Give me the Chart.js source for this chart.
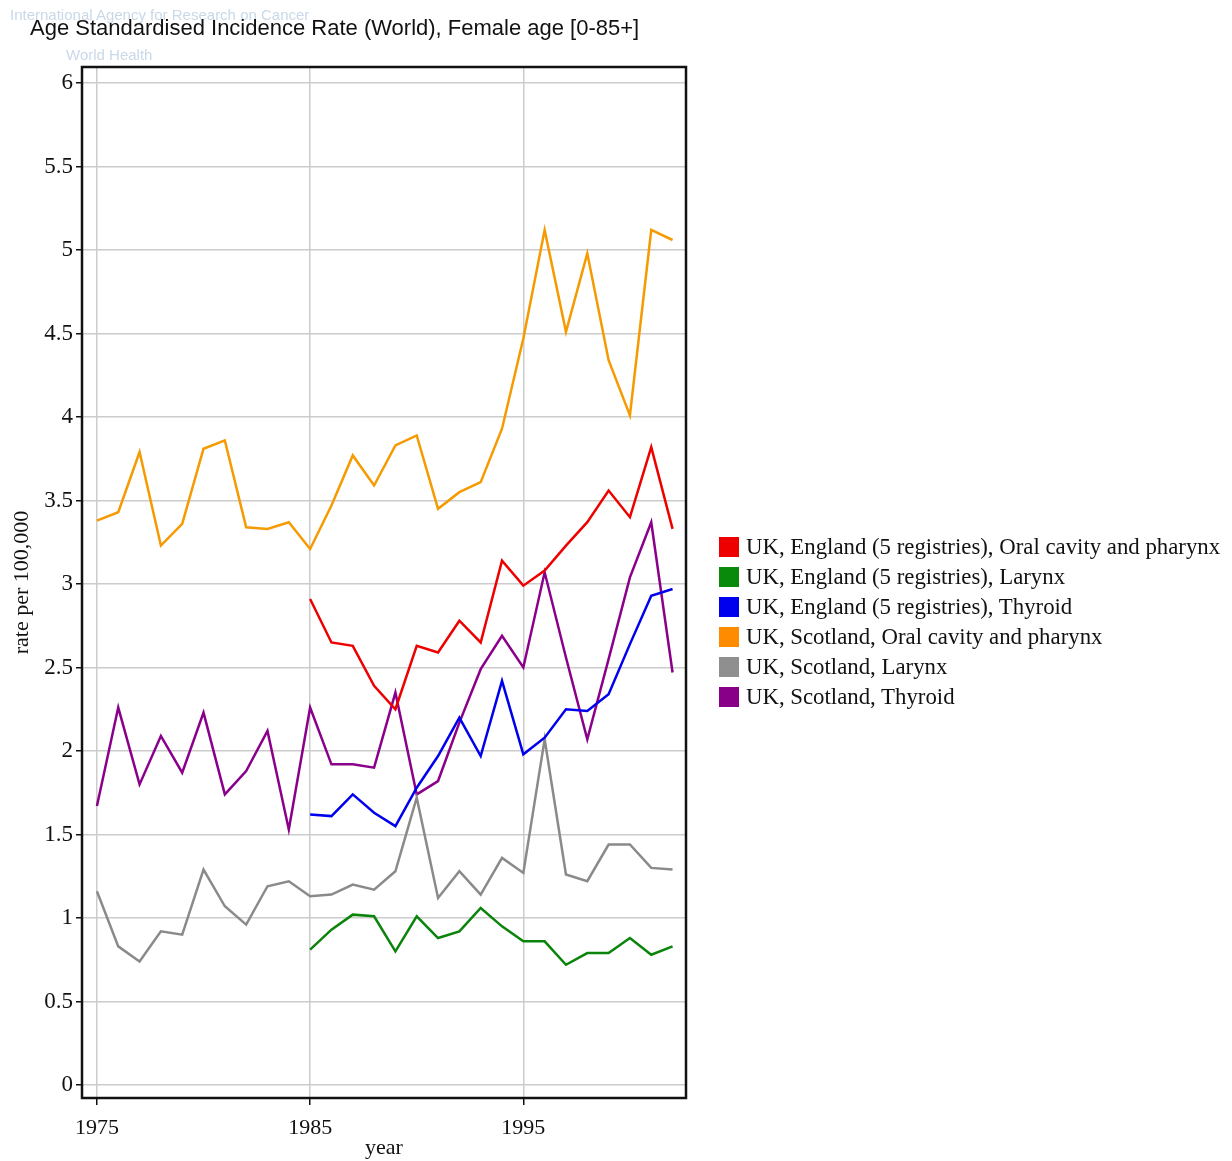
<!DOCTYPE html>
<html>
<head>
<meta charset="utf-8">
<script src="https://cdn.jsdelivr.net/npm/chart.js@4.4.1/dist/chart.umd.min.js"></script>
<style>
  body { margin: 0; background: #fff; }
  #wrap { position: relative; width: 1232px; height: 1161px; }
  #title { position: absolute; left: 30px; top: 15px; font: 22px "Liberation Sans", sans-serif; color: #111; white-space: nowrap; }
  .wm { position: absolute; color: #c9d9e8; font: 15px "Liberation Sans", sans-serif; white-space: nowrap; }
  #legend { position: absolute; left: 719px; top: 532px; font: 22.8px "Liberation Serif", serif; color: #111; }
  #legend div { height: 30px; line-height: 30px; white-space: nowrap; }
  #legend span { display: inline-block; width: 20px; height: 20px; margin-right: 7px; vertical-align: -3px; }
</style>
</head>
<body>
<div id="wrap">
  <div class="wm" style="left:10px;top:6px">International Agency for Research on Cancer</div>
  <div class="wm" style="left:66px;top:46px">World Health</div>
  <div id="title">Age Standardised Incidence Rate (World), Female age [0-85+]</div>
  <canvas id="chart" width="1232" height="1161"></canvas>
  <div id="legend"></div>
</div>
<script>
const years = [1975, 1976, 1977, 1978, 1979, 1980, 1981, 1982, 1983, 1984,
  1985, 1986, 1987, 1988, 1989, 1990, 1991, 1992, 1993, 1994,
  1995, 1996, 1997, 1998, 1999, 2000, 2001, 2002]

const seriesNames = [
  "UK, England (5 registries), Oral cavity and pharynx",
  "UK, England (5 registries), Larynx",
  "UK, England (5 registries), Thyroid",
  "UK, Scotland, Oral cavity and pharynx",
  "UK, Scotland, Larynx",
  "UK, Scotland, Thyroid"
]
const seriesColors = ["#ee0000", "#0a840a", "#0000ee", "#f59a00", "#8a8a8a", "#8b008b"]
const legendColors = ["#ee0000", "#0a8a0a", "#0000ee", "#ff8c00", "#8f8f8f", "#880088"]

// England registries only start in 1985
const engOral = [null, null, null, null, null, null, null, null, null, null,
  2.91, 2.65, 2.63, 2.39, 2.25, 2.63, 2.59, 2.78, 2.65, 3.14,
  2.99, 3.08, 3.23, 3.37, 3.56, 3.40, 3.82, 3.33]
const engLarynx = [null, null, null, null, null, null, null, null, null, null,
  0.81, 0.93, 1.02, 1.01, 0.80, 1.01, 0.88, 0.92, 1.06, 0.95,
  0.86, 0.86, 0.72, 0.79, 0.79, 0.88, 0.78, 0.83]
const engThyroid = [null, null, null, null, null, null, null, null, null, null,
  1.62, 1.61, 1.74, 1.63, 1.55, 1.78, 1.97, 2.20, 1.97, 2.42,
  1.98, 2.08, 2.25, 2.24, 2.34, 2.64, 2.93, 2.97]
const scoOral = [3.38, 3.43, 3.79, 3.23, 3.36, 3.81, 3.86, 3.34, 3.33, 3.37,
  3.21, 3.47, 3.77, 3.59, 3.83, 3.89, 3.45, 3.55, 3.61, 3.93,
  4.47, 5.12, 4.51, 4.98, 4.34, 4.01, 5.12, 5.06]
const scoLarynx = [1.16, 0.83, 0.74, 0.92, 0.90, 1.29, 1.07, 0.96, 1.19, 1.22,
  1.13, 1.14, 1.20, 1.17, 1.28, 1.72, 1.12, 1.28, 1.14, 1.36,
  1.27, 2.07, 1.26, 1.22, 1.44, 1.44, 1.30, 1.29]
const scoThyroid = [1.67, 2.26, 1.80, 2.09, 1.87, 2.23, 1.74, 1.88, 2.12, 1.53,
  2.26, 1.92, 1.92, 1.90, 2.35, 1.74, 1.82, 2.17, 2.49, 2.69,
  2.50, 3.07, 2.56, 2.07, 2.55, 3.04, 3.37, 2.47]

const xTicks = [1975, 1985, 1995]
const yTicks = [0, 0.5, 1, 1.5, 2, 2.5, 3, 3.5, 4, 4.5, 5, 5.5, 6]

const allSeries = [engOral, engLarynx, engThyroid, scoOral, scoLarynx, scoThyroid]

const datasets = allSeries.map((vals, i) => ({
  label: seriesNames[i],
  data: years.map((y, j) => ({ x: y, y: vals[j] })),
  borderColor: seriesColors[i],
  backgroundColor: seriesColors[i],
  borderWidth: 2.5,
  pointRadius: 0,
  tension: 0,
  spanGaps: false
}))

// html legend
const legendEl = document.getElementById("legend")
seriesNames.forEach((name, i) => {
  const row = document.createElement("div")
  row.innerHTML = '<span style="background:' + legendColors[i] + '"></span>' + name
  legendEl.appendChild(row)
})

const frame = {
  id: "frame",
  afterDatasetsDraw(chart) {
    const a = chart.chartArea
    const ctx = chart.ctx
    ctx.save()
    ctx.strokeStyle = "#111"
    ctx.lineWidth = 2.5
    ctx.strokeRect(a.left, a.top, a.right - a.left, a.bottom - a.top)
    ctx.restore()
  }
}

const serif = "'Liberation Serif', 'Times New Roman', serif"

new Chart(document.getElementById("chart"), {
  type: "line",
  data: { datasets: datasets },
  plugins: [frame],
  options: {
    responsive: false,
    animation: false,
    layout: { padding: { top: 67, right: 546, bottom: 0, left: 0 } },
    plugins: {
      legend: { display: false },
      tooltip: { enabled: false }
    },
    scales: {
      x: {
        type: "linear",
        min: 1974.3,
        max: 2002.63,
        afterBuildTicks: (scale) => { scale.ticks = xTicks.map(v => ({ value: v })) },
        afterFit: (scale) => { scale.height = 63 },
        grid: { color: "#cccccc", lineWidth: 1.5, tickColor: "#111", tickLength: 7 },
        border: { display: false },
        ticks: {
          callback: (v) => String(v),
          color: "#111",
          font: { family: serif, size: 22 },
          padding: 10,
          maxRotation: 0
        },
        title: {
          display: true,
          text: "year",
          color: "#111",
          font: { family: serif, size: 22 },
          padding: { top: 0, bottom: 0 }
        }
      },
      y: {
        min: -0.078,
        max: 6.096,
        afterBuildTicks: (scale) => { scale.ticks = yTicks.map(v => ({ value: v })) },
        afterFit: (scale) => { scale.width = 82 },
        grid: { color: "#cccccc", lineWidth: 1.5, tickColor: "#111", tickLength: 6 },
        border: { display: false },
        ticks: {
          callback: (v) => String(v),
          color: "#111",
          font: { family: serif, size: 23 },
          padding: 3
        },
        title: {
          display: true,
          text: "rate per 100,000",
          color: "#111",
          font: { family: serif, size: 22 },
          padding: { top: 9, bottom: 0 }
        }
      }
    }
  }
})
</script>
</body>
</html>
